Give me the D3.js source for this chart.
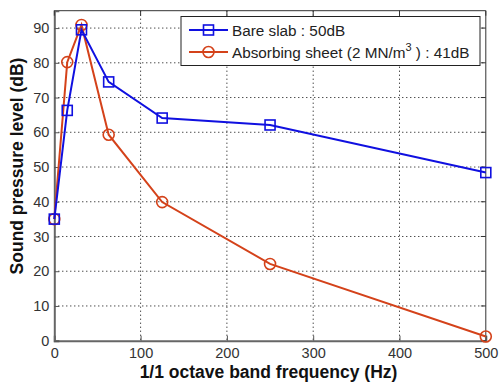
<!DOCTYPE html>
<html><head><meta charset="utf-8">
<script src="https://cdn.jsdelivr.net/npm/d3@7"></script>
<style>body{margin:0;background:#fff}svg{display:block;font-family:"Liberation Sans",Arial,sans-serif}</style>
</head><body>
<svg id="c" width="499" height="382"></svg>
<script>
const freqs = [0, 15, 31.5, 63, 125, 250, 500];
const bareSlab = [35, 66.3, 89.5, 74.5, 64.1, 62.1, 48.4];
const absorbing = [35, 80.2, 90.9, 59.3, 39.9, 22.1, 1.2];
const xTicks = [0, 100, 200, 300, 400, 500];
const yTicks = [0, 10, 20, 30, 40, 50, 60, 70, 80, 90];
const seriesNames = ["Bare slab : 50dB", "Absorbing sheet (2 MN/m", "3", " ) : 41dB"];

const svg = d3.select("#c");
const L = 54.3, R = 485.8, T = 10.7, B = 340.7;
const x = d3.scaleLinear().domain([0, 500]).range([L, R]);
const y = d3.scaleLinear().domain([0, 95]).range([B, T]);

// grid
const g = svg.append("g");
g.selectAll(".gx").data(xTicks.slice(1, -1)).join("line")
  .attr("x1", d => x(d)).attr("x2", d => x(d)).attr("y1", T).attr("y2", B)
  .attr("stroke", "#000").attr("stroke-width", 1).attr("stroke-dasharray", "1,3");
g.selectAll(".gy").data(yTicks.slice(1)).join("line")
  .attr("y1", d => y(d)).attr("y2", d => y(d)).attr("x1", L).attr("x2", R)
  .attr("stroke", "#000").attr("stroke-width", 1).attr("stroke-dasharray", "1,3");

// frame
svg.append("line").attr("x1", L).attr("x2", R).attr("y1", T).attr("y2", T).attr("stroke", "#333").attr("stroke-width", 1);
svg.append("line").attr("x1", R).attr("x2", R).attr("y1", T).attr("y2", B).attr("stroke", "#333").attr("stroke-width", 1);

// axes
const xAxis = d3.axisBottom(x).tickValues(xTicks).tickSize(-5).tickPadding(7).tickFormat(d3.format("d"));
const yAxis = d3.axisLeft(y).tickValues(yTicks).tickSize(-5).tickPadding(5).tickFormat(d3.format("d"));
const ax = svg.append("g").attr("transform", `translate(0,${B})`).call(xAxis);
const ay = svg.append("g").attr("transform", `translate(${L},0)`).call(yAxis);
[ax, ay].forEach(a => {
  a.select(".domain").attr("stroke", "#666").attr("stroke-width", 2);
  a.selectAll(".tick line").attr("stroke", "#555");
  a.selectAll("text").attr("font-size", 14.5).attr("fill", "#333").attr("font-family", "Liberation Sans, Arial, sans-serif");
});
// x top/right ticks
svg.selectAll(".tt").data(xTicks).join("line")
  .attr("x1", d => x(d)).attr("x2", d => x(d)).attr("y1", T).attr("y2", T + 5).attr("stroke", "#333");
svg.selectAll(".rt").data(yTicks).join("line")
  .attr("x1", R).attr("x2", R - 5).attr("y1", d => y(d)).attr("y2", d => y(d)).attr("stroke", "#333");

// labels
svg.append("text").attr("x", 268.5).attr("y", 378).attr("text-anchor", "middle")
  .attr("font-size", 17.5).attr("font-weight", "bold").attr("fill", "#111").text("1/1 octave band frequency (Hz)");
svg.append("text").attr("transform", `translate(23,166) rotate(-90)`).attr("text-anchor", "middle")
  .attr("font-size", 17.5).attr("font-weight", "bold").attr("fill", "#111").text("Sound pressure level (dB)");

const blue = "#1010e0", red = "#d4421a";
const line = d3.line().x((d, i) => x(freqs[i])).y(d => y(d));

function drawSeries(vals, color, shape) {
  svg.append("path").datum(vals).attr("d", line).attr("fill", "none").attr("stroke", color).attr("stroke-width", 2);
  if (shape === "square") {
    svg.selectAll(null).data(vals).join("rect")
      .attr("x", (d, i) => x(freqs[i]) - 5).attr("y", d => y(d) - 5).attr("width", 10).attr("height", 10)
      .attr("fill", "none").attr("stroke", color).attr("stroke-width", 1.6);
  } else {
    svg.selectAll(null).data(vals).join("circle")
      .attr("cx", (d, i) => x(freqs[i])).attr("cy", d => y(d)).attr("r", 5.5)
      .attr("fill", "none").attr("stroke", color).attr("stroke-width", 1.6);
  }
}
drawSeries(absorbing, red, "circle");
drawSeries(bareSlab, blue, "square");

// legend
const lg = svg.append("g");
lg.append("rect").attr("x", 181).attr("y", 16.5).attr("width", 299).attr("height", 49)
  .attr("fill", "#fff").attr("stroke", "#222").attr("stroke-width", 1);
const rows = [{c: blue, s: "square", y: 30}, {c: red, s: "circle", y: 52}];
rows.forEach((r, i) => {
  lg.append("line").attr("x1", 189).attr("x2", 228).attr("y1", r.y).attr("y2", r.y).attr("stroke", r.c).attr("stroke-width", 2);
  if (r.s === "square") lg.append("rect").attr("x", 203.5).attr("y", r.y - 5).attr("width", 10).attr("height", 10).attr("fill", "none").attr("stroke", r.c).attr("stroke-width", 1.6);
  else lg.append("circle").attr("cx", 208.5).attr("cy", r.y).attr("r", 5.5).attr("fill", "none").attr("stroke", r.c).attr("stroke-width", 1.6);
});
lg.append("text").attr("x", 232).attr("y", 35.5).attr("font-size", 15.3).attr("fill", "#222").text(seriesNames[0]);
const t2 = lg.append("text").attr("x", 232).attr("y", 58).attr("font-size", 15.3).attr("fill", "#222");
t2.append("tspan").text(seriesNames[1]);
t2.append("tspan").attr("dy", -7).attr("font-size", 11).text(seriesNames[2]);
t2.append("tspan").attr("dy", 7).text(seriesNames[3]);
</script>
</body></html>
